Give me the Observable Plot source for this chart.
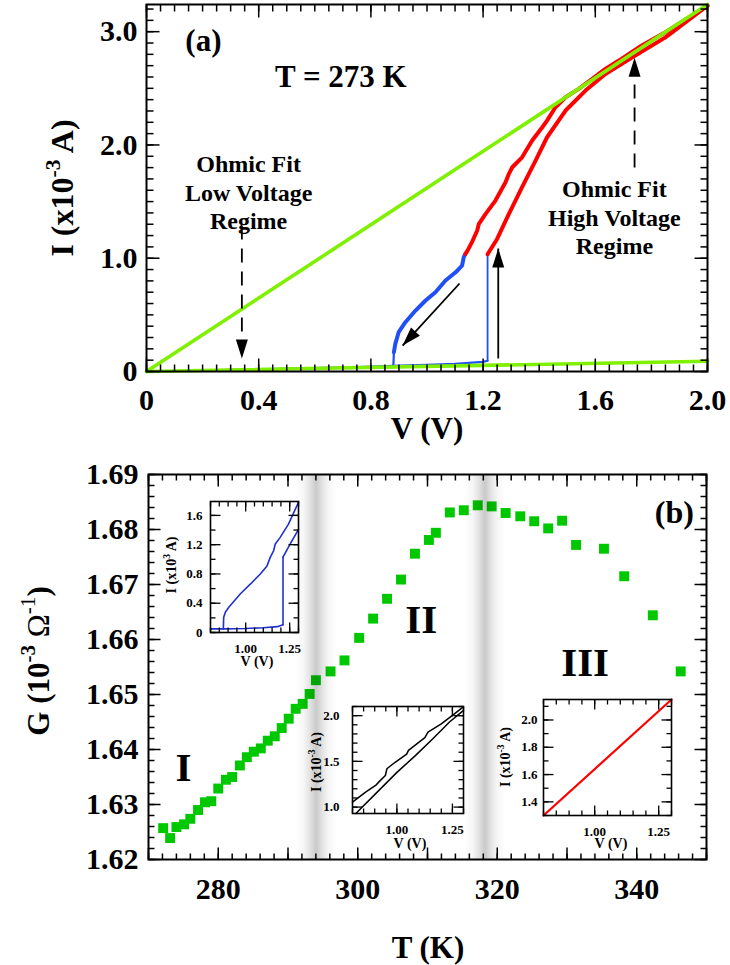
<!DOCTYPE html>
<html><head><meta charset="utf-8">
<script src="https://cdn.jsdelivr.net/npm/d3@7"></script>
<script src="https://cdn.jsdelivr.net/npm/@observablehq/plot@0.6"></script>
<style>
html,body{margin:0;padding:0;background:#fff;}
#root{position:relative;width:730px;height:965px;overflow:hidden;font-family:'Liberation Serif','Times New Roman',Times,serif;font-weight:bold;color:#000;background:#fff;}
.pl{position:absolute;}
.lab{position:absolute;white-space:nowrap;line-height:1;transform:translate(-50%,-50%);}
.rot{transform:translate(-50%,-50%) rotate(-90deg);}
sup{font-size:0.68em;vertical-align:0.62em;line-height:0;}
</style></head><body><div id="root"></div>
<script>
// ---------------- Panel (a) data ----------------
const aXTicks = [0, 0.4, 0.8, 1.2, 1.6, 2.0];
const aYTicks = [0, 1, 2, 3];
const aFitV = [0, 2.0];
const aFitHighI = [0, 3.24];
const aFitLowI = [0, 0.09];
const aBlueLowV = [0, 0.4, 0.78, 0.88, 1.0, 1.1, 1.2, 1.216];
const aBlueLowI = [0, 0.02, 0.042, 0.05, 0.058, 0.068, 0.085, 0.095];
const aJumpV = [1.216, 1.216];
const aJumpI = [0.095, 1.035];
const aDropV = [0.88, 0.882];
const aDropI = [0.05, 0.17];
const aBlueRetV = [0.882, 0.887, 0.899, 0.923, 0.959, 0.995, 1.03, 1.066, 1.102, 1.125, 1.131, 1.137];
const aBlueRetI = [0.17, 0.244, 0.347, 0.435, 0.538, 0.627, 0.70, 0.803, 0.876, 0.935, 1.009, 1.039];
const aRedFwdV = [1.216, 1.25, 1.292, 1.339, 1.387, 1.428, 1.494, 1.565, 1.636, 1.732, 1.85, 2.0];
const aRedFwdI = [1.035, 1.17, 1.392, 1.627, 1.862, 2.068, 2.304, 2.48, 2.627, 2.774, 2.95, 3.23];
const aRedRetV = [1.137, 1.145, 1.163, 1.179, 1.185, 1.209, 1.244, 1.28, 1.292, 1.304, 1.339, 1.375, 1.411, 1.428, 1.458, 1.494, 1.541, 1.589, 1.636, 1.684, 1.755, 1.85, 2.0];
const aRedRetI = [1.039, 1.07, 1.156, 1.245, 1.304, 1.392, 1.509, 1.671, 1.745, 1.803, 1.891, 2.039, 2.156, 2.215, 2.333, 2.421, 2.495, 2.583, 2.672, 2.745, 2.862, 2.995, 3.23];
// arrows: [V1, I1, V2, I2]
const aDashedArrows = [[0.34, 1.29, 0.34, 0.115], [1.74, 1.80, 1.74, 2.77]];
const aSolidArrows = [[1.116, 0.777, 0.913, 0.229], [1.254, 0.115, 1.254, 1.086]];
const aHeadRotate = [180, 0, 222.6, 0];
const aNotes = ["(a)", "T = 273 K"];
const aNoteV = [0.203, 0.693];
const aNoteI = [2.92, 2.595];
const aFitNotes = ["Ohmic Fit\nLow Voltage\nRegime", "Ohmic Fit\nHigh Voltage\nRegime"];
const aFitNoteV = [0.364, 1.668];
const aFitNoteI = [1.589, 1.368];

// ---------------- Panel (b) data ----------------
const bXTicks = [280, 300, 320, 340];
const bXMajor = [270, 280, 290, 300, 310, 320, 330, 340, 350];
const bYTicks = [1.62, 1.63, 1.64, 1.65, 1.66, 1.67, 1.68, 1.69];
const bT = [272.1, 273.1, 274.0, 275.1, 276.0, 277.1, 278.1, 279.0, 280.0, 281.1, 282.0, 283.1, 284.1, 285.1, 286.1, 287.1, 288.1, 289.1, 290.1, 291.1, 292.1, 293.1, 294.0, 296.1, 298.1, 300.2, 302.2, 304.2, 306.2, 308.2, 310.2, 311.2, 313.2, 315.2, 317.2, 319.2, 321.2, 323.3, 325.3, 327.3, 329.3, 331.3, 335.3, 338.2, 342.3, 346.3];
const bG = [1.6257, 1.6239, 1.6259, 1.6264, 1.6274, 1.6290, 1.6304, 1.6306, 1.6329, 1.6345, 1.6350, 1.6371, 1.6386, 1.6396, 1.6402, 1.6416, 1.6424, 1.6439, 1.6456, 1.6474, 1.6483, 1.6501, 1.6526, 1.6542, 1.6562, 1.6603, 1.6638, 1.6674, 1.6709, 1.6756, 1.6781, 1.6794, 1.6831, 1.6835, 1.6844, 1.6842, 1.6830, 1.6824, 1.6815, 1.6802, 1.6816, 1.6772, 1.6765, 1.6715, 1.6644, 1.6542];
const bBandT = [294.1, 318.3];
const bBandHalf = 3.0;
const bRegions = ["I", "II", "III"];
const bRegionT = [275.0, 309.1, 332.6];
const bRegionG = [1.6367, 1.6635, 1.6558];
const bTag = ["(b)"];
const bTagT = [345.4];
const bTagG = [1.6831];

// ---------------- Inset data ----------------
const insetXTicks = [1.0, 1.25];
const i1YTicks = [0, 0.4, 0.8, 1.2, 1.6];
const i1LowV = [0.8, 0.875, 1.0, 1.1, 1.18, 1.212];
const i1LowI = [0.05, 0.05, 0.055, 0.065, 0.08, 0.105];
const i1JumpV = [1.212, 1.212];
const i1JumpI = [0.105, 1.03];
const i1FwdV = [1.212, 1.253, 1.30];
const i1FwdI = [1.03, 1.21, 1.41];
const i1RetV = [0.873, 0.875, 0.885, 0.904, 0.97, 1.026, 1.083, 1.121, 1.14, 1.159, 1.168, 1.196, 1.243, 1.30];
const i1RetI = [0.05, 0.21, 0.28, 0.345, 0.53, 0.66, 0.80, 0.91, 1.03, 1.12, 1.21, 1.30, 1.48, 1.78];
const i2YTicks = [1.0, 1.5, 2.0];
const i2UpV = [0.8, 0.859, 0.904, 0.918, 0.948, 0.955, 0.992, 1.044, 1.052, 1.126, 1.14, 1.2, 1.259, 1.296];
const i2UpI = [1.055, 1.164, 1.237, 1.273, 1.346, 1.419, 1.49, 1.58, 1.62, 1.76, 1.82, 1.91, 2.02, 2.09];
const i2LoV = [0.815, 0.918, 1.0, 1.082, 1.163, 1.237, 1.296];
const i2LoI = [0.93, 1.18, 1.38, 1.56, 1.75, 1.93, 2.05];
const i3YTicks = [1.4, 1.6, 1.8, 2.0];
const i3V = [0.8, 1.3];
const i3I = [1.3, 2.15];

// ---------------- helpers ----------------
const root = document.getElementById("root");
const SERIF = "'Liberation Serif','Times New Roman',Times,serif";
const zip = (xs, ys) => xs.map((x, i) => ({x, y: ys[i]}));
function place(node, left, top) {
  const d = document.createElement("div");
  d.className = "pl"; d.style.left = left + "px"; d.style.top = top + "px";
  d.appendChild(node); root.appendChild(d);
}
function label(html, cx, cy, size, rot) {
  const d = document.createElement("div");
  d.className = "lab" + (rot ? " rot" : "");
  d.style.left = cx + "px"; d.style.top = cy + "px"; d.style.fontSize = size + "px";
  d.innerHTML = html; root.appendChild(d);
}
// inward ticks on all four sides of the frame (length in pixels), drawn as links
function frameTicks(xs, ys, xDom, yDom, W, H, len, sw) {
  const dy = len * (yDom[1] - yDom[0]) / H, dx = len * (xDom[1] - xDom[0]) / W;
  const o = {stroke: "black", strokeWidth: sw};
  return [
    Plot.link(xs, {x1: d => d, x2: d => d, y1: () => yDom[0], y2: () => yDom[0] + dy, ...o}),
    Plot.link(xs, {x1: d => d, x2: d => d, y1: () => yDom[1] - dy, y2: () => yDom[1], ...o}),
    Plot.link(ys, {y1: d => d, y2: d => d, x1: () => xDom[0], x2: () => xDom[0] + dx, ...o}),
    Plot.link(ys, {y1: d => d, y2: d => d, x1: () => xDom[1] - dx, x2: () => xDom[1], ...o})
  ];
}
const styleFor = (fs) => ({background: "transparent", fontFamily: SERIF, fontWeight: "bold", fontSize: fs + "px", overflow: "visible", color: "black"});

// ---------------- Panel (a) ----------------
{
  const W = 730, H = 440, m = {t: 4, r: 23, b: 69, l: 146};
  const iw = W - m.l - m.r, ih = H - m.t - m.b;
  const xD = [0, 2.0], yD = [0, 3.24];
  const arrowsAll = aDashedArrows.concat(aSolidArrows);
  const svg = Plot.plot({
    width: W, height: H, marginTop: m.t, marginRight: m.r, marginBottom: m.b, marginLeft: m.l,
    x: {domain: xD}, y: {domain: yD},
    style: styleFor(30),
    marks: [
      Plot.line(zip(aBlueLowV, aBlueLowI), {x: "x", y: "y", stroke: "#2050f5", strokeWidth: 2.2}),
      Plot.line(zip(aJumpV, aJumpI), {x: "x", y: "y", stroke: "#2050f5", strokeWidth: 1.8}),
      Plot.line(zip(aDropV, aDropI), {x: "x", y: "y", stroke: "#2050f5", strokeWidth: 2.2}),
      Plot.line(zip(aBlueRetV, aBlueRetI), {x: "x", y: "y", stroke: "#2050f5", strokeWidth: 4, strokeLinejoin: "round", strokeLinecap: "round"}),
      Plot.line(zip(aRedFwdV, aRedFwdI), {x: "x", y: "y", stroke: "#ff0000", strokeWidth: 4, strokeLinejoin: "round"}),
      Plot.line(zip(aRedRetV, aRedRetI), {x: "x", y: "y", stroke: "#ff0000", strokeWidth: 4, strokeLinejoin: "round"}),
      Plot.line(zip(aFitV, aFitHighI), {x: "x", y: "y", stroke: "#7ef000", strokeWidth: 3.6}),
      Plot.line(zip(aFitV, aFitLowI), {x: "x", y: "y", stroke: "#7ef000", strokeWidth: 3.6}),
      Plot.link(aDashedArrows, {x1: d => d[0], y1: d => d[1], x2: d => d[2], y2: d => d[3], stroke: "black", strokeWidth: 1.8, strokeDasharray: "14,9"}),
      Plot.link(aSolidArrows, {x1: d => d[0], y1: d => d[1], x2: d => d[2], y2: d => d[3], stroke: "black", strokeWidth: 1.8}),
      Plot.vector(arrowsAll, {x: d => d[2], y: d => d[3], rotate: (d, i) => aHeadRotate[i], length: 19, r: 6, shape: "spike", anchor: "end", fill: "black", stroke: "none"}),
      Plot.text(aNotes, {x: (d, i) => aNoteV[i], y: (d, i) => aNoteI[i], text: d => d, fontSize: 31, fontWeight: "bold"}),
      Plot.text(aFitNotes, {x: (d, i) => aFitNoteV[i], y: (d, i) => aFitNoteI[i], text: d => d, fontSize: 24, fontWeight: "bold", lineHeight: 1.17}),
      Plot.axisX(aXTicks, {tickSize: 0, tickPadding: 17, tickFormat: d => d === 0 ? "0" : d.toFixed(1), label: null, fontSize: 30, fontWeight: "bold"}),
      Plot.axisY(aYTicks, {tickSize: 0, tickPadding: 9, tickFormat: d => d === 0 ? "0" : d.toFixed(1), label: null, fontSize: 30, fontWeight: "bold"}),
      ...frameTicks(d3.range(0, 2.0001, 0.05), d3.range(0, 3.2401, 0.1), xD, yD, iw, ih, 7, 1.5),
      ...frameTicks(aXTicks, aYTicks, xD, yD, iw, ih, 13, 1.5),
      Plot.frame({stroke: "black", strokeWidth: 2})
    ]
  });
  place(svg, 0, 0);
}

// ---------------- Panel (b) ----------------
{
  const W = 730, H = 525, m = {t: 34, r: 24, b: 106, l: 148};
  const iw = W - m.l - m.r, ih = H - m.t - m.b;
  const xD = [270, 350], yD = [1.62, 1.69];
  const svg = Plot.plot({
    width: W, height: H, marginTop: m.t, marginRight: m.r, marginBottom: m.b, marginLeft: m.l,
    x: {domain: xD}, y: {domain: yD},
    style: styleFor(30),
    marks: [
      Plot.dot(zip(bT, bG), {x: "x", y: "y", symbol: "square", r: 5.6, fill: "#00c800", stroke: "none"}),
      Plot.text(bRegions, {x: (d, i) => bRegionT[i], y: (d, i) => bRegionG[i], text: d => d, fontSize: 41, fontWeight: "bold"}),
      Plot.text(bTag, {x: (d, i) => bTagT[i], y: (d, i) => bTagG[i], text: d => d, fontSize: 32, fontWeight: "bold"}),
      Plot.axisX(bXTicks, {tickSize: 0, tickPadding: 18, tickFormat: d => String(d), label: null, fontSize: 30, fontWeight: "bold"}),
      Plot.axisY(bYTicks, {tickSize: 0, tickPadding: 10, tickFormat: d => d.toFixed(2), label: null, fontSize: 30, fontWeight: "bold"}),
      ...frameTicks(d3.range(270, 350.001, 2), d3.range(1.62, 1.6901, 0.002), xD, yD, iw, ih, 6, 1.5),
      ...frameTicks(bXMajor, bYTicks, xD, yD, iw, ih, 12, 1.5),
      Plot.rect(bBandT, {x1: d => d - bBandHalf, x2: d => d + bBandHalf, fill: "url(#bandGrad)"}),
      Plot.frame({stroke: "black", strokeWidth: 2})
    ]
  });
  const ns = "http://www.w3.org/2000/svg";
  const defs = document.createElementNS(ns, "defs");
  const grad = document.createElementNS(ns, "linearGradient");
  grad.setAttribute("id", "bandGrad");
  [[0, 0], [0.2, 0.035], [0.35, 0.11], [0.5, 0.21], [0.65, 0.11], [0.8, 0.035], [1, 0]].forEach(([o, a]) => {
    const s = document.createElementNS(ns, "stop");
    s.setAttribute("offset", o); s.setAttribute("stop-color", "black"); s.setAttribute("stop-opacity", a);
    grad.appendChild(s);
  });
  defs.appendChild(grad);
  svg.insertBefore(defs, svg.firstChild);
  place(svg, 0, 440);
}

// ---------------- Insets ----------------
function inset({left, top, w, h, yDomain, yTicks, yMinor, yPad, yFmt, marks}) {
  const m = {t: 4, r: 4, b: 30, l: 50};
  const xD = [0.8, 1.3];
  const svg = Plot.plot({
    width: w + m.l + m.r, height: h + m.t + m.b,
    marginTop: m.t, marginRight: m.r, marginBottom: m.b, marginLeft: m.l,
    x: {domain: xD}, y: {domain: yDomain},
    style: styleFor(13),
    marks: [
      Plot.frame({fill: "white", stroke: "none"}),
      ...marks,
      Plot.axisX(insetXTicks, {tickSize: 0, tickPadding: 11, tickFormat: d => d.toFixed(2), label: null, fontSize: 13, fontWeight: "bold"}),
      Plot.axisY(yTicks, {tickSize: 0, tickPadding: yPad, tickFormat: yFmt, label: null, fontSize: 13, fontWeight: "bold"}),
      ...frameTicks(d3.range(0.8, 1.3001, 0.05), yMinor, xD, yDomain, w, h, 5, 1.3),
      ...frameTicks(insetXTicks, yTicks, xD, yDomain, w, h, 10, 1.3),
      Plot.frame({stroke: "black", strokeWidth: 1.6})
    ]
  });
  place(svg, left - m.l, top - m.t);
}
inset({left: 210, top: 501, w: 88, h: 131, yDomain: [0, 1.79], yTicks: i1YTicks, yMinor: d3.range(0, 1.79, 0.2), yPad: 8,
  yFmt: d => d === 0 ? "0" : d.toFixed(1),
  marks: [
    Plot.line(zip(i1LowV, i1LowI), {x: "x", y: "y", stroke: "#1f2fd0", strokeWidth: 1.6}),
    Plot.line(zip(i1JumpV, i1JumpI), {x: "x", y: "y", stroke: "#1f2fd0", strokeWidth: 1.6}),
    Plot.line(zip(i1FwdV, i1FwdI), {x: "x", y: "y", stroke: "#1f2fd0", strokeWidth: 1.6}),
    Plot.line(zip(i1RetV, i1RetI), {x: "x", y: "y", stroke: "#1f2fd0", strokeWidth: 1.6})
  ]});
inset({left: 352, top: 706, w: 111, h: 107, yDomain: [0.93, 2.1], yTicks: i2YTicks, yMinor: d3.range(1.0, 2.1001, 0.1), yPad: 13,
  yFmt: d => d.toFixed(1),
  marks: [
    Plot.line(zip(i2UpV, i2UpI), {x: "x", y: "y", stroke: "black", strokeWidth: 1.5}),
    Plot.line(zip(i2LoV, i2LoI), {x: "x", y: "y", stroke: "black", strokeWidth: 1.5})
  ]});
inset({left: 543, top: 699, w: 128, h: 116, yDomain: [1.3, 2.15], yTicks: i3YTicks, yMinor: d3.range(1.3, 2.1501, 0.1), yPad: 6,
  yFmt: d => d.toFixed(1),
  marks: [
    Plot.line(zip(i3V, i3I), {x: "x", y: "y", stroke: "#ff0000", strokeWidth: 2.2})
  ]});

// ---------------- Axis titles ----------------
label("I (x10<sup>-3</sup> A)", 62, 188, 32, true);
label("V (V)", 427, 428, 31, false);
label("G (10<sup>-3</sup> <span style='font-weight:normal'>&Omega;</span><sup style='font-weight:normal'>-1</sup>)", 38, 661, 31, true);
label("T (K)", 428, 947, 31, false);
label("I (x10<sup>3</sup> A)", 172, 565, 14, true);
label("V (V)", 257, 662, 14, false);
label("I (x10<sup>-3</sup> A)", 317, 762, 14, true);
label("V (V)", 410, 844, 14, false);
label("I (x10<sup>-3</sup> A)", 506, 757, 14, true);
label("V (V)", 611, 844, 14, false);
</script></body></html>
